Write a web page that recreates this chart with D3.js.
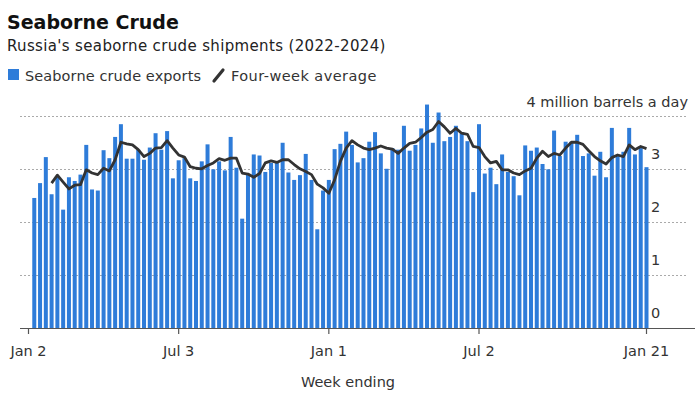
<!DOCTYPE html>
<html><head><meta charset="utf-8">
<script src="https://cdn.jsdelivr.net/npm/d3@7"></script>
<style>
html,body{margin:0;padding:0;background:#fff;}
svg{display:block;font-family:"DejaVu Sans",Verdana,sans-serif;}
</style></head>
<body><svg id="c" width="700" height="394"></svg>
<script>
// Week-ending dates: weekly from Jan 9 2022 to Jan 21 2024 (107 weeks)
const firstWeek = "2022-01-09";
const weekCount = 107;
// Seaborne crude exports, million barrels a day
const exports = [
2.45,2.73,3.22,2.52,2.85,2.23,2.84,2.77,2.89,3.45,
2.61,2.59,3.35,3.20,3.60,3.84,3.19,3.19,3.36,3.17,
3.40,3.67,3.36,3.71,2.82,3.16,3.20,2.82,2.77,3.14,
3.46,2.99,3.14,2.97,3.60,3.02,2.06,2.89,3.27,3.25,
2.94,3.11,3.11,3.49,2.93,2.79,2.88,3.28,2.79,1.86,
2.59,2.79,3.37,3.47,3.70,3.45,3.12,3.20,3.51,3.69,
3.29,3.00,3.39,3.36,3.81,3.34,3.45,3.76,4.21,3.49,
4.06,3.52,3.60,3.81,3.67,3.52,2.56,3.84,2.91,3.02,
2.71,3.27,2.94,2.86,2.50,3.44,3.34,3.40,3.09,2.99,
3.72,3.24,3.51,3.51,3.64,3.24,3.29,2.87,3.32,2.84,
3.77,3.24,3.32,3.77,3.27,3.39,3.03];
// Four-week average (starts at 4th week)
const average = [
null,null,null,2.73,2.88,2.75,2.62,2.69,2.70,2.98,
2.92,2.89,3.01,2.96,3.17,3.50,3.47,3.45,3.36,3.23,
3.29,3.39,3.40,3.53,3.39,3.26,3.22,3.04,3.01,3.00,
3.06,3.11,3.19,3.16,3.20,3.20,2.92,2.90,2.84,2.91,
3.11,3.15,3.12,3.17,3.17,3.08,3.00,2.95,2.89,2.71,
2.64,2.54,2.79,3.14,3.39,3.53,3.45,3.39,3.36,3.39,
3.43,3.39,3.37,3.29,3.39,3.48,3.50,3.59,3.69,3.74,
3.89,3.79,3.67,3.76,3.67,3.65,3.42,3.40,3.23,3.11,
3.14,2.98,2.98,2.92,2.89,2.96,3.01,3.20,3.33,3.23,
3.29,3.26,3.39,3.50,3.50,3.46,3.34,3.23,3.15,3.09,
3.21,3.26,3.23,3.45,3.36,3.42,3.38];
const xTickDates = ["2022-01-02","2022-07-03","2023-01-01","2023-07-02","2024-01-21"];
const xTickLabels = ["Jan 2","Jul 3","Jan 1","Jul 2","Jan 21"];
const yTicks = [0,1,2,3,4];
const yTickLabels = ["0","1","2","3","4 million barrels a day"];

const parse = d3.utcParse("%Y-%m-%d");
const start = parse(firstWeek);
const dates = d3.range(weekCount).map(i => d3.utcDay.offset(start, i*7));
const data = dates.map((d,i)=>({date:d, v:exports[i], a:average[i]}));

const svg = d3.select("#c");
const x = d3.scaleUtc().domain([parse("2022-01-02"), parse("2024-01-21")]).range([28.5, 646.5]);
const y = d3.scaleLinear().domain([0,4]).range([328, 115.7]);
const bw = 4;
const blue = "#2e7cd9";

// Titles
svg.append("text").attr("x",7).attr("y",29).attr("font-size",19).attr("font-weight","bold").attr("fill","#111").text("Seaborne Crude");
svg.append("text").attr("x",7).attr("y",51).attr("font-size",15).attr("letter-spacing",0.35).attr("fill","#222").text("Russia's seaborne crude shipments (2022-2024)");

// Legend
svg.append("rect").attr("x",8).attr("y",69).attr("width",11).attr("height",11).attr("fill",blue);
svg.append("text").attr("x",25).attr("y",80.5).attr("font-size",14.5).attr("letter-spacing",0.1).attr("fill","#333").text("Seaborne crude exports");
svg.append("line").attr("x1",214).attr("y1",81).attr("x2",223).attr("y2",70).attr("stroke","#333").attr("stroke-width",3.2).attr("stroke-linecap","round");
svg.append("text").attr("x",231).attr("y",80.5).attr("font-size",14.5).attr("letter-spacing",0.45).attr("fill","#333").text("Four-week average");

// Gridlines
const grid = svg.append("g");
grid.selectAll("line").data(yTicks.filter(t=>t>0)).join("line")
  .attr("x1",20).attr("x2",688).attr("y1",d=>Math.round(y(d))+0.5).attr("y2",d=>Math.round(y(d))+0.5)
  .attr("stroke","#aaa").attr("stroke-width",1).attr("stroke-dasharray","2,2");

// Y labels (above gridlines, right side)
svg.append("g").selectAll("text").data(yTicks).join("text")
  .attr("x",d=> d===4 ? 688 : 651)
  .attr("text-anchor",d=> d===4 ? "end" : "start")
  .attr("y",d=> d===4 ? y(d)-9 : y(d)-10)
  .attr("font-size",14.5).attr("fill","#333")
  .text((d,i)=>yTickLabels[i]);

// Bars
svg.append("g").selectAll("rect").data(data).join("rect")
  .attr("x",d=>x(d.date)-bw/2).attr("width",bw)
  .attr("y",d=>y(d.v)).attr("height",d=>y(0)-y(d.v))
  .attr("fill",blue);

// Average line
const line = d3.line().defined(d=>d.a!=null).x(d=>x(d.date)).y(d=>y(d.a));
svg.append("path").datum(data).attr("d",line).attr("fill","none")
  .attr("stroke","#333").attr("stroke-width",2.8).attr("stroke-linejoin","round");

// X axis
const xAxis = svg.append("g").attr("transform",`translate(0,${y(0)})`);
xAxis.append("line").attr("x1",20).attr("x2",695).attr("y1",0.5).attr("y2",0.5).attr("stroke","#555").attr("stroke-width",1.2);
const tks = xTickDates.map((d,i)=>({d:parse(d),l:xTickLabels[i]}));
xAxis.selectAll(".tk").data(tks).join("line").attr("class","tk")
  .attr("x1",d=>x(d.d)).attr("x2",d=>x(d.d)).attr("y1",0).attr("y2",6).attr("stroke","#555").attr("stroke-width",1.2);
xAxis.selectAll(".tl").data(tks).join("text").attr("class","tl")
  .attr("x",d=>x(d.d)).attr("y",28).attr("text-anchor","middle")
  .attr("font-size",14.5).attr("fill","#333").text(d=>d.l);

svg.append("text").attr("x",348).attr("y",387).attr("text-anchor","middle").attr("font-size",14.5).attr("fill","#333").text("Week ending");
</script></body></html>
